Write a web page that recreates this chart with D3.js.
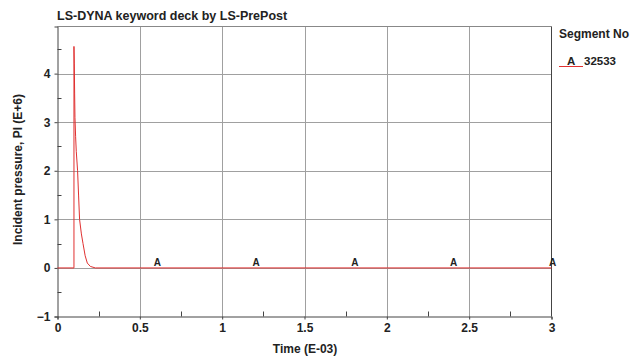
<!DOCTYPE html>
<html>
<head>
<meta charset="utf-8">
<script src="https://cdn.jsdelivr.net/npm/d3@7"></script>
<style>
  body { margin: 0; background: #fff; }
  text { font-family: "Liberation Sans", Arial, sans-serif; font-weight: bold; fill: #222; }
</style>
</head>
<body>
<div id="chart"></div>
<script>
// Curve (time in E-03, pressure in E+6)
const timeValues = [0, 0.1, 0.1, 0.102, 0.104, 0.106, 0.11, 0.114, 0.122, 0.128, 0.134, 0.145, 0.155, 0.168, 0.181, 0.2, 0.23, 3];
const pressureValues = [0, 0, 4.56, 4.2, 3.6, 3.1, 2.7, 2.4, 2.0, 1.5, 1.0, 0.7, 0.5, 0.25, 0.1, 0.03, 0, 0];
const markerTimes = [0.6, 1.2, 1.8, 2.4, 3.0];
const xTicks = [0, 0.5, 1, 1.5, 2, 2.5, 3];
const yTicks = [-1, 0, 1, 2, 3, 4];
const legendTitle = "Segment No";
const seriesName = "32533";
const seriesMark = "A";

const width = 641;
const height = 360;
const margin = { left: 57.5, right: 89.5, top: 26.5, bottom: 43.5 };

const svg = d3
  .select("#chart")
  .append("svg")
  .attr("width", width)
  .attr("height", height);

const x = d3.scaleLinear().domain([0, 3]).range([margin.left, width - margin.right]);
const y = d3.scaleLinear().domain([-1, 4.97]).range([height - margin.bottom, margin.top]);

const data = timeValues.map((t, i) => ({ t, p: pressureValues[i] }));

// Grid lines
svg.append("g")
  .selectAll("line")
  .data(xTicks.filter((d) => d > 0 && d < 3))
  .enter()
  .append("line")
  .attr("x1", (d) => Math.round(x(d)) + 0.5)
  .attr("x2", (d) => Math.round(x(d)) + 0.5)
  .attr("y1", y.range()[1])
  .attr("y2", y.range()[0])
  .attr("stroke", "#a0a0a0")
  .attr("stroke-width", 1);

svg.append("g")
  .selectAll("line")
  .data(yTicks.filter((d) => d > -1))
  .enter()
  .append("line")
  .attr("x1", x.range()[0])
  .attr("x2", x.range()[1])
  .attr("y1", (d) => Math.round(y(d)) + 0.5)
  .attr("y2", (d) => Math.round(y(d)) + 0.5)
  .attr("stroke", "#a0a0a0")
  .attr("stroke-width", 1);

// Top border
svg.append("line")
  .attr("x1", x.range()[0]).attr("x2", x.range()[1])
  .attr("y1", y.range()[1]).attr("y2", y.range()[1])
  .attr("stroke", "#888");

// Right border
svg.append("line")
  .attr("x1", x.range()[1]).attr("x2", x.range()[1])
  .attr("y1", y.range()[1]).attr("y2", y.range()[0])
  .attr("stroke", "#444");

// Minor ticks (inside)
const xMinor = d3.range(0.25, 3, 0.5);
svg.append("g")
  .selectAll("line")
  .data(xMinor)
  .enter()
  .append("line")
  .attr("x1", (d) => Math.round(x(d)) + 0.5).attr("x2", (d) => Math.round(x(d)) + 0.5)
  .attr("y1", y.range()[0]).attr("y2", y.range()[0] - 5)
  .attr("stroke", "#444");

const yMinor = d3.range(-0.5, 4.6, 1);
svg.append("g")
  .selectAll("line")
  .data(yMinor)
  .enter()
  .append("line")
  .attr("x1", x.range()[0]).attr("x2", x.range()[0] + 4)
  .attr("y1", (d) => Math.round(y(d)) + 0.5).attr("y2", (d) => Math.round(y(d)) + 0.5)
  .attr("stroke", "#444");

// Axes
const xAxis = svg.append("g")
  .attr("transform", `translate(0,${y.range()[0]})`)
  .call(d3.axisBottom(x).tickValues(xTicks).tickSize(3).tickPadding(4).tickFormat(d3.format("")));
const yAxis = svg.append("g")
  .attr("transform", `translate(${x.range()[0]},0)`)
  .call(d3.axisLeft(y).tickValues(yTicks).tickSize(3).tickPadding(4).tickFormat(d3.format("")));

[xAxis, yAxis].forEach((g) => {
  g.select(".domain").attr("stroke", "#444");
  g.selectAll(".tick line").attr("stroke", "#444");
  g.selectAll(".tick text")
    .attr("font-size", 12)
    .attr("font-weight", "bold")
    .attr("fill", "#222")
    .attr("font-family", "'Liberation Sans', Arial, sans-serif");
});

// Curve
svg.append("path")
  .datum(data)
  .attr("d", d3.line().x((d) => x(d.t)).y((d) => y(d.p)))
  .attr("fill", "none")
  .attr("stroke", "#e03030")
  .attr("stroke-width", 1);

// Curve markers
svg.append("g")
  .selectAll("text")
  .data(markerTimes)
  .enter()
  .append("text")
  .attr("x", (d) => x(d) + 1)
  .attr("y", y(0) - 2)
  .attr("text-anchor", "middle")
  .attr("font-size", 10)
  .text(seriesMark);

// Title
svg.append("text")
  .attr("x", 57)
  .attr("y", 20)
  .attr("font-size", 12.5)
  .text("LS-DYNA keyword deck by LS-PrePost");

// Axis titles
svg.append("text")
  .attr("x", 305)
  .attr("y", 353)
  .attr("text-anchor", "middle")
  .attr("font-size", 12)
  .text("Time (E-03)");

svg.append("text")
  .attr("transform", `translate(22,${(y.range()[0] + y.range()[1]) / 2 - 2}) rotate(-90)`)
  .attr("text-anchor", "middle")
  .attr("font-size", 12)
  .text("Incident pressure, PI (E+6)");

// Legend
svg.append("text")
  .attr("x", 559)
  .attr("y", 38)
  .attr("font-size", 12)
  .text(legendTitle);

svg.append("line")
  .attr("x1", 559).attr("x2", 583)
  .attr("y1", 66.5).attr("y2", 66.5)
  .attr("stroke", "#e03030");

svg.append("text")
  .attr("x", 567)
  .attr("y", 65)
  .attr("font-size", 11.5)
  .text(seriesMark);

svg.append("text")
  .attr("x", 584)
  .attr("y", 65)
  .attr("font-size", 11.5)
  .text(seriesName);
</script>
</body>
</html>
